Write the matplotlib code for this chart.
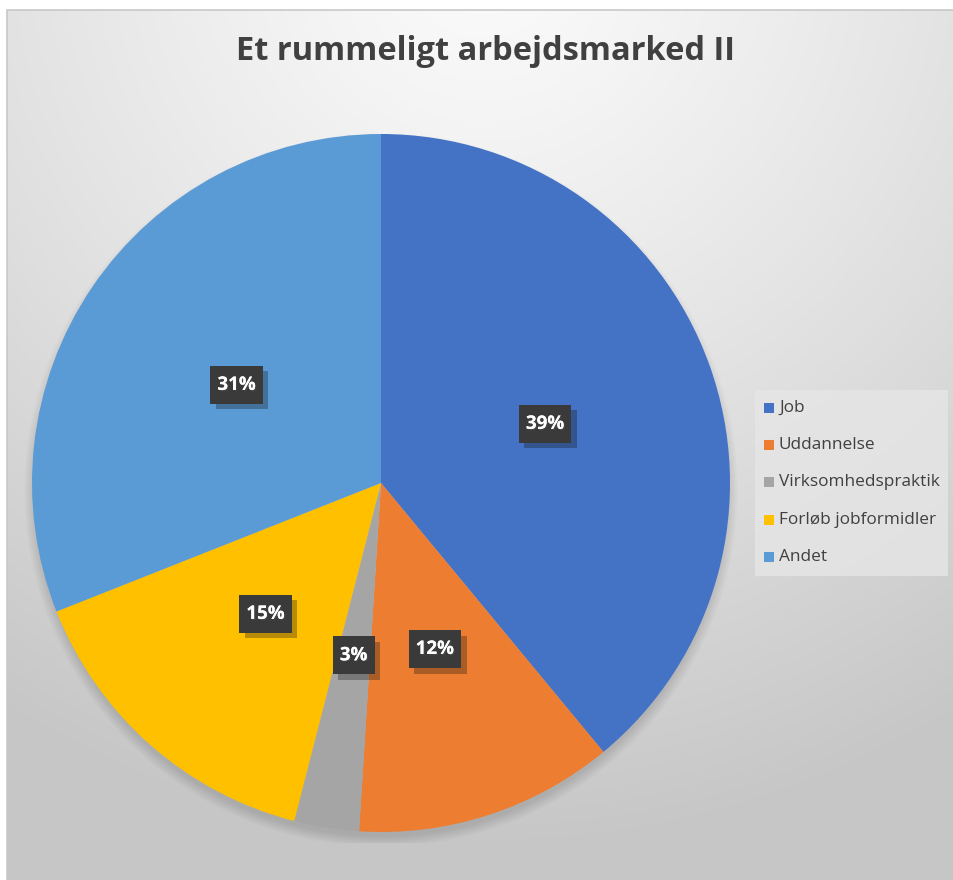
import numpy as np
import matplotlib.pyplot as plt
import matplotlib.patheffects as pe
from matplotlib.patches import Circle, Rectangle

categories = ["Job", "Uddannelse", "Virksomhedspraktik", "Forløb jobformidler", "Andet"]
shares = [39, 12, 3, 15, 31]
colors = ["#4472C4", "#ED7D31", "#A5A5A5", "#FFC000", "#5B9BD5"]
title = "Et rummeligt arbejdsmarked II"

W, H = 954, 880
fig = plt.figure(figsize=(W / 100, H / 100), dpi=100)

# background: white margin, then the grey radial gradient of the chart area
bg = fig.add_axes([0, 0, 1, 1])
bg.set_xlim(0, W)
bg.set_ylim(H, 0)
bg.axis("off")
yy, xx = np.mgrid[0:H, 0:W]
d = np.sqrt((xx - 480) ** 2 + (yy + 60) ** 2)
g = np.clip(d / 900.0, 0, 1)
shade = 0.985 - 0.205 * g ** 1.2
img = np.dstack([shade, shade, shade])
bg.imshow(img, extent=(7, W, H, 10), aspect="auto", zorder=0)
bg.add_patch(Rectangle((7, 10), W - 7, H - 10, fill=False, ec="#c8c8c8", lw=1.2, zorder=1))
bg.text(486, 52, title, ha="center", va="center", fontsize=23.5, fontweight="bold",
        color="#404040", family="Open Sans")

# pie
cx, cy, r = 381, 483, 349
pad = 360
ax = fig.add_axes([(cx - pad) / W, (H - cy - pad) / H, 2 * pad / W, 2 * pad / H])

# soft shadow under the pie
for k in range(14):
    ax.add_patch(Circle((0, -7), r + 8 - k * 0.8, color="#000000", alpha=0.008, lw=0, zorder=0))

ax.pie(shares, colors=colors, startangle=90, counterclock=False,
       radius=r, center=(0, 0), frame=True, wedgeprops=dict(lw=0))
ax.set_xlim(-pad, pad)
ax.set_ylim(-pad, pad)
ax.set_aspect("equal")
ax.axis("off")

fig.canvas.draw()
renderer = fig.canvas.get_renderer()
cum = np.cumsum([0] + shares[:-1])
for s, c0 in zip(shares, cum):
    mid = np.deg2rad(90 - (c0 + s / 2) * 3.6)
    x, y = 0.5 * r * np.cos(mid), 0.5 * r * np.sin(mid)
    t = ax.text(x, y, f"{s}%", ha="center", va="center", fontsize=13.5, fontweight="bold",
                color="white", family="Open Sans", zorder=6)
    t.set_path_effects([pe.withSimplePatchShadow(offset=(1, -1), alpha=0.5), pe.Normal()])
    w = t.get_window_extent(renderer).width + 14
    h = 38
    box = Rectangle((x - w / 2, y - h / 2), w, h, fc="#3a3a3a", ec="none", zorder=5)
    box.set_path_effects([pe.withSimplePatchShadow(offset=(4, -4), alpha=0.3), pe.Normal()])
    ax.add_patch(box)

# legend box
bg.add_patch(Rectangle((755, 390), 193, 186, fc="#e6e6e6", ec="none", alpha=0.8, zorder=2))
for i, (cat, col) in enumerate(zip(categories, colors)):
    y = 408 + i * 37.2
    bg.add_patch(Rectangle((764, y - 5), 10, 10, fc=col, ec="none", zorder=3))
    bg.text(779, y, cat, ha="left", va="center", fontsize=12.4, color="#404040",
            family="Open Sans", zorder=3)

fig.savefig("out.png", dpi=100)
